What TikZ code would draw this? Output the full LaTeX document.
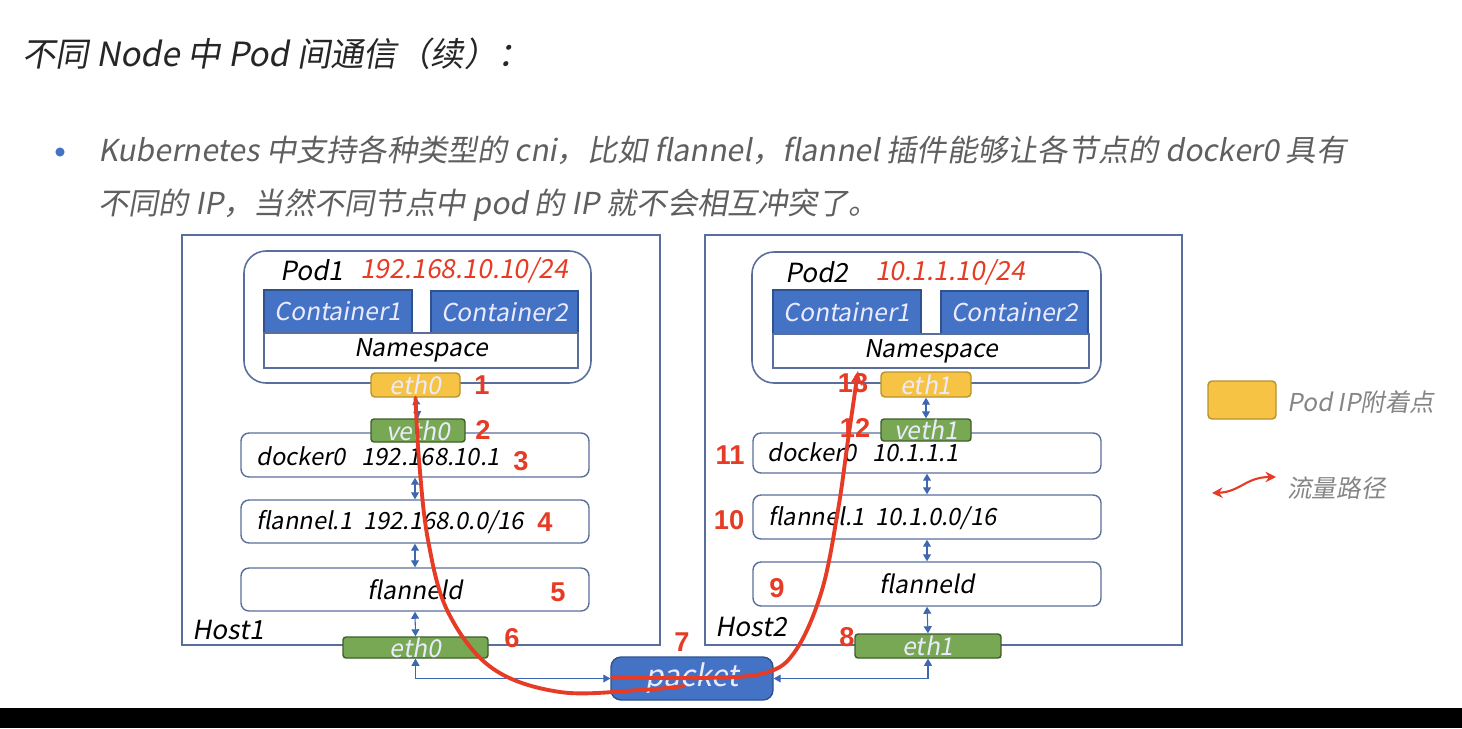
\documentclass[tikz,border=0pt]{standalone}
\usepackage{fontspec}
\setmainfont{Liberation Sans}
\newfontfamily\cjk[FakeSlant=0.18]{Noto Sans CJK SC}
\newfontfamily\numf{Liberation Sans}
\usetikzlibrary{fit,arrows.meta}

\definecolor{hostline}{HTML}{5A6E9C}
\definecolor{contblue}{HTML}{4472C4}
\definecolor{contedge}{HTML}{2F528F}
\definecolor{podyellow}{HTML}{F6C344}
\definecolor{yellowedge}{HTML}{B8922E}
\definecolor{vethgreen}{HTML}{78A853}
\definecolor{greenedge}{HTML}{3E5E2B}
\definecolor{pathred}{HTML}{E63B25}
\definecolor{txtgray}{HTML}{5F5F5F}
\definecolor{legendgray}{HTML}{858585}

\newcommand\labfont{\cjk\fontsize{14}{14}\selectfont}

\tikzset{
  hostbox/.style={draw=hostline, line width=0.9pt, inner sep=0},
  podbox/.style={draw=hostline, line width=0.9pt, rounded corners=0.44cm, inner sep=0},
  layerbox/.style={draw=hostline, line width=0.8pt, fill=white, rounded corners=0.16cm, inner sep=0},
  contbox/.style={draw=contedge, line width=0.7pt, fill=contblue, inner sep=0},
  nsbox/.style={draw=hostline, line width=0.8pt, fill=white, inner sep=0},
  ipbox/.style={draw=yellowedge, line width=0.8pt, fill=podyellow, rounded corners=0.08cm, inner sep=0},
  vethbox/.style={draw=greenedge, line width=0.8pt, fill=vethgreen, rounded corners=0.06cm, inner sep=0},
  pktbox/.style={draw=contedge, line width=0.8pt, fill=contblue, rounded corners=0.2cm, inner sep=0},
  boxtext/.style={inner sep=0, font=\labfont},
  whitetext/.style={boxtext, text=white!92!blue},
  stepnum/.style={text=pathred, font=\numf\bfseries\fontsize{15.5}{15.5}\selectfont, inner sep=0},
  plain/.style={inner sep=0, font=\cjk\fontsize{13.5}{13.5}\selectfont},
  podtext/.style={inner sep=0, font=\cjk\fontsize{15}{15}\selectfont},
  flowarrow/.style={{Triangle[length=4pt,width=4.5pt]}-{Triangle[length=4pt,width=4.5pt]}, draw=contblue!90!black, line width=0.6pt},
  redpath/.style={draw=pathred, line width=2.2pt, line cap=round}
}

\begin{document}
\begin{tikzpicture}[x=0.02cm, y=-0.02cm]
  \useasboundingbox (0,0) rectangle (1462,728);
  \fill[white] (0,0) rectangle (1462,728);
  \fill[black] (0,708) rectangle (1462,728);

  % heading and bullet text
  \node[anchor=west, inner sep=0, text=black!85, font=\cjk\fontsize{19}{19}\selectfont] (title) at (22,54) {不同 Node 中 Pod 间通信（续）：};
  \fill[contblue] (60,152) circle (2.6pt);
  \node[anchor=west, inner sep=0, text=txtgray, font=\cjk\fontsize{17.2}{17.2}\selectfont] (line1) at (98,150) {Kubernetes 中支持各种类型的 cni，比如 flannel，flannel 插件能够让各节点的 docker0 具有};
  \node[anchor=west, inner sep=0, text=txtgray, font=\cjk\fontsize{17.2}{17.2}\selectfont] (line2) at (98,205) {不同的 IP，当然不同节点中 pod 的 IP 就不会相互冲突了。};

  % Host1
  \node[hostbox, fit={(182,235) (660,645)}] (host1) {};
  \node[podbox, fit={(244,251) (591,383)}] (pod1) {};
  \node[podtext, anchor=west] (pod1name) at (280,270) {Pod1};
  \node[podtext, anchor=west, text=pathred] (pod1ip) at (360,270) {192.168.10.10/24};
  \node[contbox, fit={(264,290) (412,333)}, label={[whitetext]center:Container1}] (c1a) {};
  \node[contbox, fit={(431,291) (578,333)}, label={[whitetext]center:Container2}] (c2a) {};
  \node[nsbox, fit={(264,333) (578,368)}, label={[boxtext]center:Namespace}] (nsa) {};
  \node[ipbox, fit={(371,373) (460,397)}, label={[whitetext]center:eth0}] (eth0p) {};
  \node[layerbox, fit={(241,433) (589,477)}] (dockA) {};
  \node[plain, anchor=west] at (256,456) {docker0\ \ \ 192.168.10.1};
  \node[vethbox, fit={(371,419) (465,442)}, label={[whitetext]center:veth0}] (veth0) {};
  \node[layerbox, fit={(241,500) (589,543)}] (flanA) {};
  \node[plain, anchor=west] at (256,522) {flannel.1\ \ 192.168.0.0/16};
  \node[layerbox, fit={(241,568) (589,611)}, label={[boxtext]center:flanneld}] (flandA) {};
  \node[podtext, anchor=west] (host1name) at (192,630) {Host1};
  \node[vethbox, fit={(343,637) (488,658)}, label={[whitetext]center:eth0}] (eth0h) {};

  % Host2
  \node[hostbox, fit={(705,235) (1182,645)}] (host2) {};
  \node[podbox, fit={(752,252) (1101,383)}] (pod2) {};
  \node[podtext, anchor=west] (pod2name) at (785,272) {Pod2};
  \node[podtext, anchor=west, text=pathred] (pod2ip) at (875,272) {10.1.1.10/24};
  \node[contbox, fit={(773,290) (921,334)}, label={[whitetext]center:Container1}] (c1b) {};
  \node[contbox, fit={(941,291) (1088,334)}, label={[whitetext]center:Container2}] (c2b) {};
  \node[nsbox, fit={(773,334) (1089,368)}, label={[boxtext]center:Namespace}] (nsb) {};
  \node[ipbox, fit={(881,372) (971,397)}, label={[whitetext]center:eth1}] (eth1p) {};
  \node[layerbox, fit={(753,433) (1101,473)}] (dockB) {};
  \node[plain, anchor=west] at (767,452) {docker0\ \ \ 10.1.1.1};
  \node[vethbox, fit={(881,419) (971,441)}, label={[whitetext]center:veth1}] (veth1) {};
  \node[layerbox, fit={(753,495) (1101,539)}] (flanB) {};
  \node[plain, anchor=west] at (768,518) {flannel.1\ \ 10.1.0.0/16};
  \node[layerbox, fit={(753,562) (1101,606)}, label={[boxtext]center:flanneld}] (flandB) {};
  \node[podtext, anchor=west] (host2name) at (715,627) {Host2};
  \node[vethbox, fit={(855,634) (1001,658)}, label={[whitetext]center:eth1}] (eth1h) {};

  \node[pktbox, fit={(611,657) (773,700)}, label={[whitetext, font=\cjk\fontsize{17}{17}\selectfont]center:packet}] (packet) {};

  % blue links
  \draw[flowarrow] (eth0p.south) -- (veth0.north);
  \draw[flowarrow] (dockA.south) -- (flanA.north);
  \draw[flowarrow] (flanA.south) -- (flandA.north);
  \draw[flowarrow] (flandA.south) -- (eth0h.north);
  \draw[flowarrow] (eth0h.south) |- (packet.west);
  \draw[flowarrow] (eth1p.south) -- (veth1.north);
  \draw[flowarrow] (dockB.south) -- (flanB.north);
  \draw[flowarrow] (flanB.south) -- (flandB.north);
  \draw[flowarrow] (flandB.south) -- (eth1h.north);
  \draw[flowarrow] (eth1h.south) |- (packet.east);

  % step numbers
  \node[stepnum] (n1) at (482,385) {1};
  \node[stepnum] (n2) at (483,430) {2};
  \node[stepnum] (n3) at (521,461) {3};
  \node[stepnum] (n4) at (545,522) {4};
  \node[stepnum] (n5) at (558,592) {5};
  \node[stepnum] (n6) at (512,638) {6};
  \node[stepnum] (n7) at (682,642) {7};
  \node[stepnum] (n8) at (847,637) {8};
  \node[stepnum] (n9) at (777,588) {9};
  \node[stepnum] (n10) at (729,520) {10};
  \node[stepnum] (n11) at (730,455) {11};
  \node[stepnum] (n12) at (855,428) {12};
  \node[stepnum] (n13) at (853,383) {13};

  % traffic path
  \coordinate (p1end) at (684,686);
  \coordinate (p2start) at (612,677);
  \coordinate (p2end) at (858,371);
  \draw[redpath] plot[smooth, tension=0.6] coordinates {(eth0p.south) (419,460) (428,540) (448,612) (492,668) (560,692) (640,690) (p1end)};
  \draw[redpath, -{Stealth[length=8pt,width=7pt]}] plot[smooth, tension=0.6] coordinates {(p2start) (700,678) (765,673) (796,650) (822,590) (838,510) (848,440) (p2end)};

  % legend
  \node[ipbox, fit={(1208,381) (1276,419)}] (legbox) {};
  \node[anchor=west, inner sep=0, text=legendgray, font=\cjk\fontsize{14}{14}\selectfont] (legbox-t) at (1287,402) {Pod IP附着点};
  \coordinate (legA) at (1212,493);
  \coordinate (legB) at (1276,477);
  \draw[pathred, line width=1.2pt, {Stealth[length=6pt,width=6pt]}-{Stealth[length=6pt,width=6pt]}] (legA) .. controls (1240,492) and (1246,477) .. (legB);
  \node[anchor=west, inner sep=0, text=legendgray, font=\cjk\fontsize{14}{14}\selectfont] (legpath-t) at (1287,488) {流量路径};
\end{tikzpicture}
\end{document}
